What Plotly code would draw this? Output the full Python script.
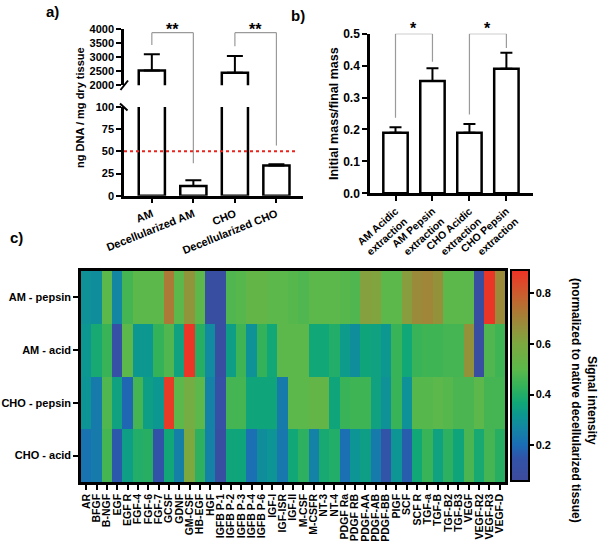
import plotly.graph_objects as go

W, H = 600, 544
FONT = "Liberation Sans, Arial, sans-serif"

# ---------------- data ----------------
a_categories = ["AM", "Decellularized AM", "CHO", "Decellularized CHO"]
a_mean = [2530, 11, 2450, 34]
a_sd = [570, 6.5, 590, 1.5]
a_threshold = 50
a_upper_ticks = [2000, 2500, 3000, 3500, 4000]
a_lower_ticks = [0, 25, 50, 75, 100]

b_categories = ["AM Acidic<br>extraction", "AM Pepsin<br>extraction",
                "CHO Acidic<br>extraction", "CHO Pepsin<br>extraction"]
b_mean = [0.19, 0.352, 0.19, 0.39]
b_sd = [0.017, 0.04, 0.027, 0.05]
b_ticks = [0.0, 0.1, 0.2, 0.3, 0.4, 0.5]

growth_factors = ["AR", "BFGF", "B-NGF", "EGF", "EGF R", "FGF-4", "FGF-6", "FGF-7",
                  "GCSF", "GDNF", "GM-CSF", "HB-EGF", "HGF", "IGFB P-1", "IGFB P-2",
                  "IGFB P-3", "IGFB P-4", "IGFB P-6", "IGF-I", "IGF-ISR", "IGF-II",
                  "M-CSF", "M-CSFR", "NT-3", "NT-4", "PDGF Ra", "PDGF RB", "PDGF-AA",
                  "PDGF-AB", "PDGF-BB", "PIGF", "SCF", "SCF R", "TGF-a", "TGF-B",
                  "TGF-B2", "TGF-B3", "VEGF", "VEGF-R2", "VEGF-R3", "VEGF-D"]
extracts = ["AM - pepsin", "AM - acid", "CHO - pepsin", "CHO - acid"]
am_pepsin = [0.30, 0.29, 0.50, 0.27, 0.46, 0.50, 0.50, 0.50, 0.72, 0.50, 0.65, 0.50, 0.10, 0.10,
             0.48, 0.49, 0.52, 0.52, 0.50, 0.50, 0.49, 0.48, 0.50, 0.50, 0.50, 0.49, 0.48, 0.62,
             0.61, 0.50, 0.50, 0.63, 0.68, 0.69, 0.66, 0.50, 0.50, 0.50, 0.10, 0.88, 0.68]
am_acid = [0.32, 0.38, 0.44, 0.12, 0.50, 0.32, 0.32, 0.43, 0.48, 0.35, 0.88, 0.41, 0.28, 0.10,
           0.34, 0.45, 0.30, 0.43, 0.37, 0.50, 0.50, 0.50, 0.37, 0.37, 0.40, 0.33, 0.29, 0.36,
           0.35, 0.32, 0.44, 0.37, 0.44, 0.45, 0.45, 0.46, 0.46, 0.66, 0.10, 0.48, 0.45]
cho_pepsin = [0.31, 0.24, 0.48, 0.35, 0.19, 0.46, 0.34, 0.32, 0.87, 0.50, 0.57, 0.50, 0.26, 0.12,
              0.46, 0.46, 0.36, 0.36, 0.36, 0.24, 0.50, 0.50, 0.52, 0.52, 0.36, 0.44, 0.45, 0.45,
              0.35, 0.30, 0.44, 0.30, 0.49, 0.49, 0.50, 0.49, 0.47, 0.47, 0.50, 0.46, 0.46]
cho_acid = [0.22, 0.24, 0.46, 0.16, 0.34, 0.40, 0.41, 0.14, 0.37, 0.25, 0.60, 0.42, 0.26, 0.10,
            0.36, 0.36, 0.21, 0.29, 0.31, 0.23, 0.37, 0.42, 0.26, 0.38, 0.40, 0.21, 0.31, 0.34,
            0.24, 0.15, 0.31, 0.17, 0.37, 0.44, 0.35, 0.42, 0.36, 0.47, 0.38, 0.46, 0.41]
cbar_ticks = [0.2, 0.4, 0.6, 0.8]
z_min, z_max = 0.06, 0.89

colorscale = [
    [0.0, "#3e4a9c"], [0.108, "#3153a8"], [0.169, "#1b6cb5"], [0.253, "#1386a3"],
    [0.313, "#0c9890"], [0.373, "#11a776"], [0.446, "#33b25a"], [0.53, "#5cb84a"],
    [0.65, "#7da840"], [0.747, "#9b8a3a"], [0.867, "#c5632f"], [1.0, "#ef3226"],
]

# ---------------- geometry helpers ----------------
def px(x):
    return x / W

def py(y):
    return 1 - y / H

A_X = [px(124), px(303)]
A_UP = [py(85.3), py(29)]
A_LO = [py(195.7), py(107)]
B_X = [px(370), px(533)]
B_Y = [py(193.3), py(33.7)]
C_X = [px(81), px(505)]
C_Y = [py(482), py(271)]


def a_up_paper(v):
    return A_UP[0] + (v - 2000) / 2000 * (A_UP[1] - A_UP[0])


def a_lo_paper(v):
    return A_LO[0] + v / 100 * (A_LO[1] - A_LO[0])


def bold(size):
    return dict(family=FONT, size=size, color="black", weight="bold")


fig = go.Figure()

idx_a = list(range(len(a_categories)))
idx_b = list(range(len(b_categories)))

bar_style = dict(marker=dict(color="white", line=dict(color="black", width=2.5)),
                 showlegend=False, hoverinfo="skip")

for xa, ya in (("x", "y"), ("x2", "y2")):
    fig.add_trace(go.Bar(
        x=idx_a, y=a_mean, width=0.63, xaxis=xa, yaxis=ya,
        error_y=dict(type="data", array=a_sd, arrayminus=[0] * len(a_sd), symmetric=False,
                     color="black", thickness=2, width=8),
        **bar_style))

fig.add_trace(go.Bar(
    x=idx_b, y=b_mean, width=0.66, xaxis="x3", yaxis="y3",
    error_y=dict(type="data", array=b_sd, arrayminus=[0] * len(b_sd), symmetric=False,
                 color="black", thickness=2, width=6),
    **bar_style))

fig.add_trace(go.Heatmap(
    z=[am_pepsin, am_acid, cho_pepsin, cho_acid], x=growth_factors, y=extracts,
    xaxis="x4", yaxis="y4", colorscale=colorscale, zmin=z_min, zmax=z_max,
    hoverinfo="skip",
    colorbar=dict(x=px(511), xanchor="left", xpad=0, y=py(375.5), yanchor="middle", ypad=0,
                  len=211 / H, lenmode="fraction", thickness=18, thicknessmode="pixels",
                  outlinewidth=2, outlinecolor="black", ticks="outside", ticklen=4,
                  tickwidth=2, tickcolor="black", tickvals=cbar_ticks, tickformat=".1f",
                  tickfont=bold(11)),
))

axis_common = dict(showgrid=False, zeroline=False, showline=True, linecolor="black",
                   linewidth=2.5, ticks="outside", ticklen=5, tickwidth=2, tickcolor="black")

fig.update_layout(
    width=W, height=H, margin=dict(l=0, r=0, t=0, b=0), autosize=False,
    template="none", paper_bgcolor="white", plot_bgcolor="rgba(0,0,0,0)",
    font=dict(family=FONT, color="black", weight="bold"),
    showlegend=False,
    xaxis=dict(domain=A_X, anchor="y", range=[-0.67, 3.64], visible=False, fixedrange=True),
    yaxis=dict(domain=A_UP, anchor="x", range=[2000, 4000], tickmode="array",
               tickvals=a_upper_ticks, tickfont=bold(11), **axis_common),
    xaxis2=dict(domain=A_X, anchor="y2", range=[-0.67, 3.64], tickmode="array",
                tickvals=idx_a, ticktext=a_categories, tickangle=-22, tickfont=bold(11),
                **axis_common),
    yaxis2=dict(domain=A_LO, anchor="x2", range=[0, 100], tickmode="array",
                tickvals=a_lower_ticks, tickfont=bold(11), **axis_common),
    xaxis3=dict(domain=B_X, anchor="y3", range=[-0.69, 3.72], tickmode="array",
                tickvals=idx_b, ticktext=b_categories, tickangle=-42, tickfont=bold(10.5),
                **axis_common),
    yaxis3=dict(domain=B_Y, anchor="x3", range=[0, 0.5], tickmode="array",
                tickvals=b_ticks, tickformat=".1f", tickfont=bold(12), **axis_common),
    xaxis4=dict(domain=C_X, anchor="y4", tickmode="array", tickvals=growth_factors,
                ticktext=growth_factors, tickangle=-90, tickfont=bold(10.5), mirror=True,
                **axis_common),
    yaxis4=dict(domain=C_Y, anchor="x4", autorange="reversed", tickmode="array",
                tickvals=extracts, ticktext=extracts, tickfont=bold(11), mirror=True,
                **axis_common),
)

# ---------------- shapes: brackets, threshold, axis breaks ----------------
gray = dict(color="#9a9a9a", width=1.2)
shapes = []


def bracket(xref, yref, xl, xr, ytop, yl, yr):
    return [
        dict(type="line", xref=xref, yref=yref, x0=xl, x1=xl, y0=yl, y1=ytop, line=gray),
        dict(type="line", xref=xref, yref=yref, x0=xl, x1=xr, y0=ytop, y1=ytop, line=gray),
        dict(type="line", xref=xref, yref=yref, x0=xr, x1=xr, y0=ytop, y1=yr, line=gray),
    ]


top_a = a_up_paper(3870)
shapes += bracket("x2", "paper", 0, 1, top_a,
                  a_up_paper(a_mean[0] + a_sd[0] + 330), a_lo_paper(a_mean[1] + a_sd[1] + 19))
shapes += bracket("x2", "paper", 2, 3, top_a,
                  a_up_paper(a_mean[2] + a_sd[2] + 350), a_lo_paper(a_mean[3] + a_sd[3] + 21))
shapes += bracket("x3", "y3", 0, 1, 0.5, b_mean[0] + b_sd[0] + 0.03, b_mean[1] + b_sd[1] + 0.02)
shapes += bracket("x3", "y3", 2, 3, 0.5, b_mean[2] + b_sd[2] + 0.03, b_mean[3] + b_sd[3] + 0.015)

shapes.append(dict(type="line", xref="x2 domain", yref="y2", x0=0, x1=0.96,
                   y0=a_threshold, y1=a_threshold,
                   line=dict(color="#e8241c", width=2, dash="dot")))

# axis break marks
shapes.append(dict(type="line", xref="paper", yref="paper", x0=px(120.5), x1=px(128),
                   y0=py(90), y1=py(80.5), line=dict(color="black", width=2)))
shapes.append(dict(type="line", xref="paper", yref="paper", x0=px(120), x1=px(127.5),
                   y0=py(103.5), y1=py(110.5), line=dict(color="black", width=2)))
fig.update_layout(shapes=shapes)

# ---------------- annotations ----------------
ann = []
ann.append(dict(text="a)", x=px(44), y=py(11), xref="paper", yref="paper", xanchor="left",
                yanchor="middle", showarrow=False, font=bold(15)))
ann.append(dict(text="b)", x=px(289), y=py(15), xref="paper", yref="paper", xanchor="left",
                yanchor="middle", showarrow=False, font=bold(15)))
ann.append(dict(text="c)", x=px(8), y=py(237), xref="paper", yref="paper", xanchor="left",
                yanchor="middle", showarrow=False, font=bold(15)))
ann.append(dict(text="ng DNA / mg dry tissue", x=px(80), y=py(108), xref="paper",
                yref="paper", xanchor="center", yanchor="middle", textangle=-90,
                showarrow=False, font=bold(11)))
ann.append(dict(text="Initial mass/final mass", x=px(334), y=py(114), xref="paper",
                yref="paper", xanchor="center", yanchor="middle", textangle=-90,
                showarrow=False, font=bold(12.5)))
ann.append(dict(text="Signal intensity<br>(normalized to native decellularized tissue)",
                x=px(584), y=py(400), xref="paper", yref="paper", xanchor="center",
                yanchor="middle", textangle=90, showarrow=False, font=bold(12)))
for xc in (0.5, 2.5):
    ann.append(dict(text="**", x=xc, y=py(29), xref="x2", yref="paper", xanchor="center",
                    yanchor="middle", showarrow=False, font=bold(16)))
    ann.append(dict(text="*", x=xc, y=py(28), xref="x3", yref="paper", xanchor="center",
                    yanchor="middle", showarrow=False, font=bold(16)))
fig.update_layout(annotations=ann)

fig.write_html("out.html", config={"displayModeBar": False},
               post_script="document.body.style.margin='0';document.body.style.overflow='hidden';")
